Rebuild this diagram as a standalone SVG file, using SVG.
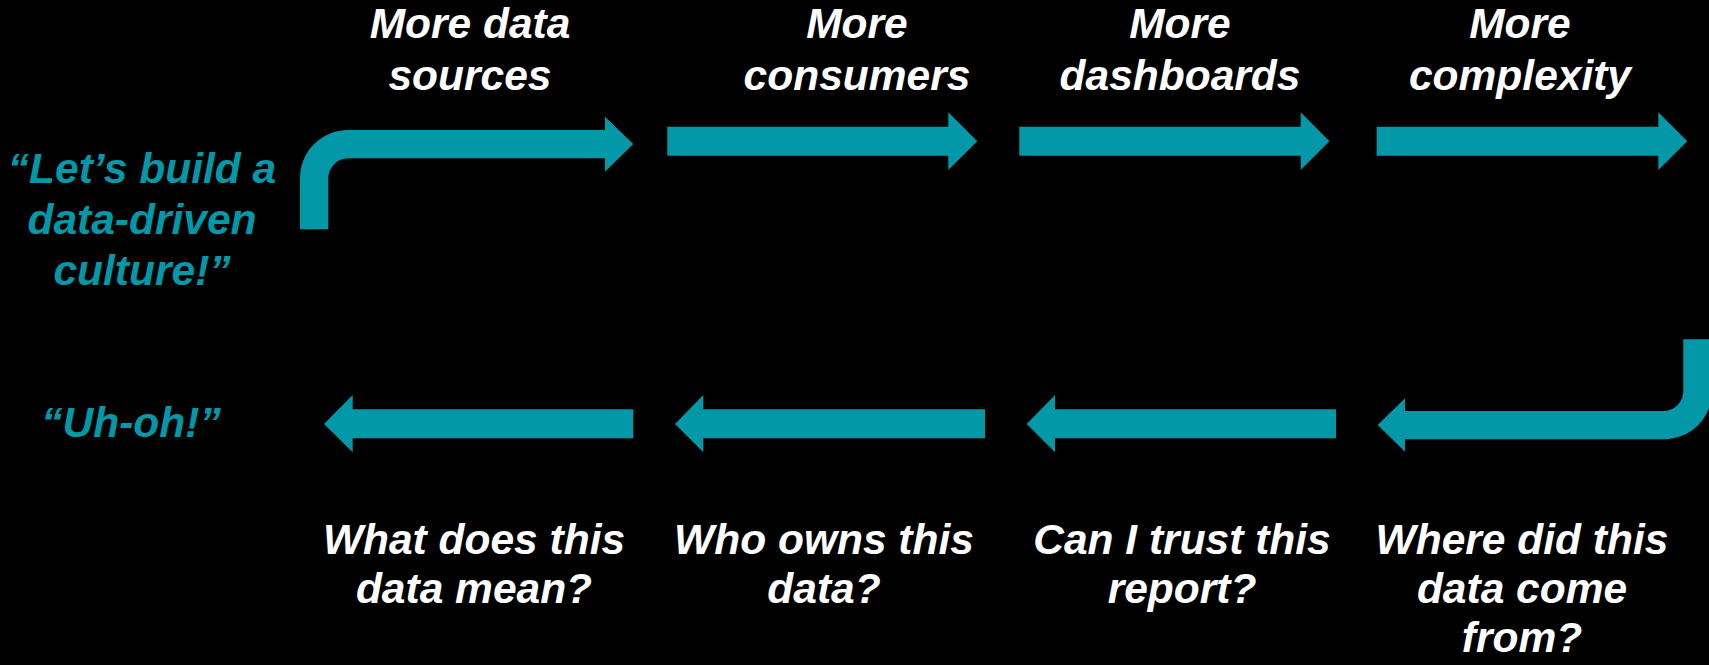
<svg xmlns="http://www.w3.org/2000/svg" width="1709" height="665" viewBox="0 0 1709 665">
  <style>
    .arrow { fill: #0298a8; }
    .label { font-family: "Liberation Sans", Arial, sans-serif; font-size: 42.5px; font-weight: bold; font-style: italic; text-anchor: middle; }
    .white { fill: #ffffff; }
    .teal { fill: #0298a8; }
  </style>
  <rect width="1709" height="665" fill="#000000"/>

  <!-- flow arrows -->
  <g id="connectors">
    <path class="arrow" d="M300,229.3 L300,178 A48,48 0 0 1 348,130 L605,130 L605,116.7 L633.3,144 L605,171.7 L605,158.3 L348.3,158.3 A20,20 0 0 0 328.3,178.3 L328.3,229.3 Z"/>
    <path class="arrow" d="M667.3,126.7 L948.3,126.7 L948.3,112.3 L977.3,141.3 L948.3,170 L948.3,155.7 L667.3,155.7 Z"/>
    <path class="arrow" d="M1019.3,126.7 L1300.7,126.7 L1300.7,112.3 L1329.5,141.3 L1300.7,170 L1300.7,155.7 L1019.3,155.7 Z"/>
    <path class="arrow" d="M1376.7,126.7 L1658.3,126.7 L1658.3,112.3 L1687.3,141.3 L1658.3,170 L1658.3,155.7 L1376.7,155.7 Z"/>
    <path class="arrow" d="M1683.3,339.3 L1712,339.3 L1712,391 A48,48 0 0 1 1664,439.3 L1405,439.3 L1405,451.7 L1377.7,425 L1405,398.3 L1405,411 L1663.3,411 A20,20 0 0 0 1683.3,391 Z"/>
    <path class="arrow" d="M1336,409.3 L1055,409.3 L1055,395 L1026.7,424 L1055,452.3 L1055,438.3 L1336,438.3 Z"/>
    <path class="arrow" d="M985,409.3 L703.3,409.3 L703.3,395 L675,424 L703.3,452.3 L703.3,438.3 L985,438.3 Z"/>
    <path class="arrow" d="M633.3,409.3 L352.7,409.3 L352.7,395 L324,424 L352.7,452.3 L352.7,438.3 L633.3,438.3 Z"/>
  </g>

  <!-- start and end quotes -->
  <g id="start">
    <text class="label teal" x="142" y="183"><tspan x="142">“Let’s build a</tspan><tspan x="142" y="234">data-driven</tspan><tspan x="142" y="285">culture!”</tspan></text>
  </g>
  <g id="end">
    <text class="label teal" x="131" y="437">“Uh-oh!”</text>
  </g>

  <!-- growth labels -->
  <g id="more-sources">
    <text class="label white" x="470" y="38"><tspan x="470">More data</tspan><tspan x="470" y="90">sources</tspan></text>
  </g>
  <g id="more-consumers">
    <text class="label white" x="857" y="38"><tspan x="857">More</tspan><tspan x="857" y="90">consumers</tspan></text>
  </g>
  <g id="more-dashboards">
    <text class="label white" x="1180" y="38"><tspan x="1180">More</tspan><tspan x="1180" y="90">dashboards</tspan></text>
  </g>
  <g id="more-complexity">
    <text class="label white" x="1520" y="38"><tspan x="1520">More</tspan><tspan x="1520" y="90">complexity</tspan></text>
  </g>

  <!-- questions -->
  <g id="q-meaning">
    <text class="label white" x="474" y="554"><tspan x="474">What does this</tspan><tspan x="474" y="603">data mean?</tspan></text>
  </g>
  <g id="q-owner">
    <text class="label white" x="824" y="554"><tspan x="824">Who owns this</tspan><tspan x="824" y="603">data?</tspan></text>
  </g>
  <g id="q-trust">
    <text class="label white" x="1182" y="554"><tspan x="1182">Can I trust this</tspan><tspan x="1182" y="603">report?</tspan></text>
  </g>
  <g id="q-origin">
    <text class="label white" x="1522" y="554"><tspan x="1522">Where did this</tspan><tspan x="1522" y="603">data come</tspan><tspan x="1522" y="652">from?</tspan></text>
  </g>
</svg>
